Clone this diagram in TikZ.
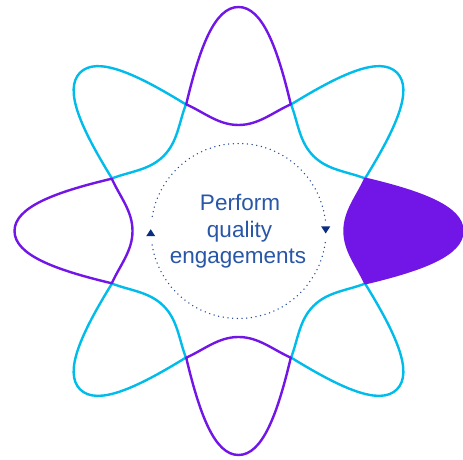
\documentclass[tikz,border=0pt]{standalone}
\usepackage{fontspec}
\setmainfont{Liberation Sans}
\definecolor{purp}{HTML}{7216E8}
\definecolor{cyanl}{HTML}{00BCEB}
\definecolor{txtblue}{HTML}{2957A8}
\definecolor{navy}{HTML}{0B2D80}
\definecolor{dotblue}{HTML}{1F4A9A}
\tikzset{
  lobe/.pic={
    \path[pic actions] (126.7,52.3) .. controls (183.1,38.9) and (224,24) .. (224,0)
      .. controls (224,-24) and (183.1,-38.9) .. (126.7,-52.3)
      .. controls (118.5,-34.1) and (106,-20) .. (106,0)
      .. controls (106,20) and (118.5,34.1) .. (126.7,52.3) -- cycle;
  },
  lobeline/.style={line width=2.4pt, line join=round},
  dotarc/.style={draw=dotblue, line width=1.5pt, line cap=round, dash pattern=on 0pt off 4.7pt},
  tri/.style={fill=navy, draw=none},
  lbl/.style={text=txtblue, font=\fontsize{22.5pt}{26.5pt}\selectfont, anchor=base, inner sep=0pt}
}
\begin{document}
\begin{tikzpicture}[x=1pt,y=1pt]
\useasboundingbox (0,0) rectangle (463,460);
\fill[white] (0,0) rectangle (463,460);
\coordinate (c) at (238.5,229);
% cyan diagonal lobes
\foreach \a in {45,135,225,315}
  \pic[draw=cyanl, lobeline, rotate=\a] at (c) {lobe};
% purple axis lobes
\foreach \a in {90,180,270}
  \pic[draw=purp, lobeline, rotate=\a] at (c) {lobe};
\pic[draw=purp, fill=purp, lobeline] at (c) {lobe};
% dotted circle
\draw[dotarc] (c) ++(7.2:87.5) arc[start angle=7.2, end angle=171.7, radius=87.5];
\draw[dotarc] (c) ++(189.2:87.5) arc[start angle=189.2, end angle=353.6, radius=87.5];
% arrowheads
\coordinate (la) at (150.7,227.3);
\coordinate (ra) at (325.7,230);
\fill[tri] ([shift={(-4.5,-3.5)}]la) -- ([shift={(4.5,-3.5)}]la) -- ([shift={(0,3.5)}]la) -- cycle;
\fill[tri] ([shift={(-4.5,3.5)}]ra) -- ([shift={(4.5,3.5)}]ra) -- ([shift={(0,-3.5)}]ra) -- cycle;
% text
\node[lbl] (t1) at (240,249) {Perform};
\node[lbl] (t2) at (239.5,222.3) {quality};
\node[lbl] (t3) at (238,196) {engagements};
\end{tikzpicture}
\end{document}
